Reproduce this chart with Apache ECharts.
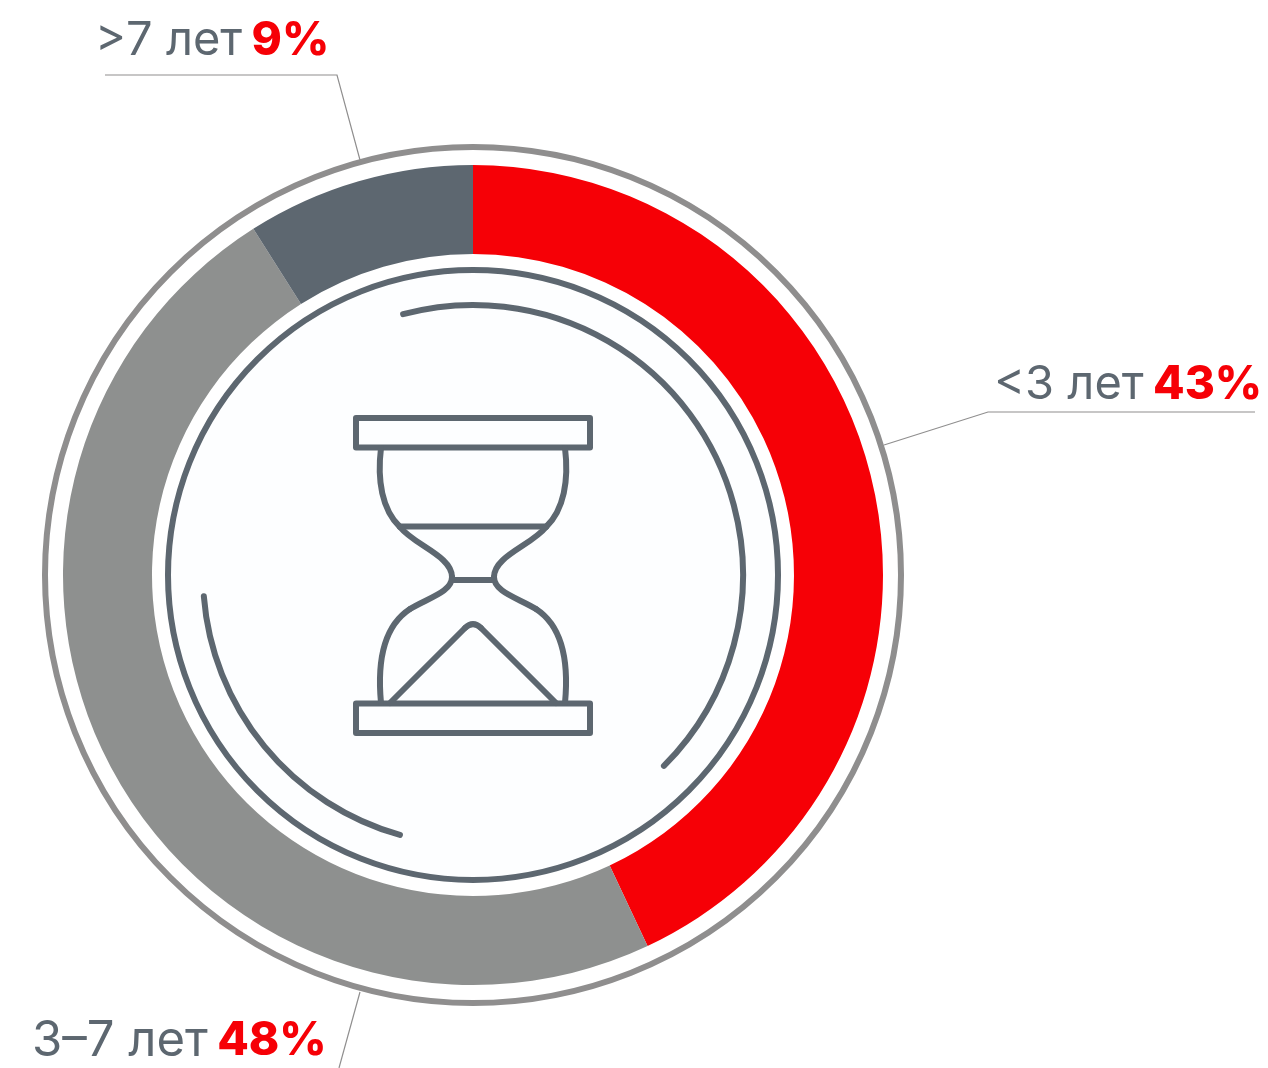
<!DOCTYPE html>
<html><head><meta charset="utf-8">
<style>html,body{margin:0;padding:0;background:#fff}#c{width:1268px;height:1068px}</style>
<script src="https://cdn.jsdelivr.net/npm/echarts@6/dist/echarts.min.js"></script>
</head><body><div id="c"></div>
<script>
const categories = ['<3 лет', '3–7 лет', '>7 лет'];
const values = [43, 48, 9];
const colors = ['#f60006', '#8e908f', '#5d6770'];
const nameStyles = ['a', 'w', 'a'];
const labelAnchors = [
  {x: 994, y: 385, line: [[884, 445], [988, 412], [1255, 412]]},
  {x: 32, y: 1041, line: [[360, 992], [339, 1068]]},
  {x: 95, y: 41, line: [[360, 160], [337, 75], [105, 75]]}
];
const GREY = '#5d6770', RING = '#8f8e8e', cx = 473, cy = 575;
const deg = d => d * Math.PI / 180;
const iconStyle = {fill: 'none', stroke: GREY, lineWidth: 6, lineCap: 'round', lineJoin: 'round'};
const iconRects = [[356, 418, 234, 29.5], [356, 703.5, 234, 29.5]];
const iconLines = [
  [[400, 526.5], [546, 526.5]],
  [[452, 580], [494, 580]],
  [[390, 703], [465, 628]],
  [[481, 628], [556, 703]]
];
// x1,y1, cx1,cy1, cx2,cy2, x2,y2 for the left half of the glass; the right half mirrors it
const glassCurves = [
  [381, 448, 377, 480, 382, 510, 400, 527],
  [400, 527, 414, 545, 452, 556, 452, 577],
  [452, 577, 452, 592, 428, 598, 410, 609],
  [410, 609, 390, 622, 376, 650, 381, 703]
];
const mirror = c => c.map((v, i) => i % 2 ? v : 2 * cx - v);
const bez = c => ({type: 'bezierCurve', z: 3, shape: {x1: c[0], y1: c[1], cpx1: c[2], cpy1: c[3], cpx2: c[4], cpy2: c[5], x2: c[6], y2: c[7]}, style: iconStyle});
const iconShapes = [
  ...iconRects.map(r => ({type: 'rect', z: 3, shape: {x: r[0], y: r[1], width: r[2], height: r[3]}, style: iconStyle})),
  ...iconLines.map(l => ({type: 'polyline', z: 3, shape: {points: l}, style: iconStyle})),
  ...glassCurves.map(bez),
  ...glassCurves.map(mirror).map(bez),
  {type: 'bezierCurve', z: 3, shape: {x1: 465, y1: 628, cpx1: 473, cpy1: 620, x2: 481, y2: 628}, style: iconStyle}
];
const chart = echarts.init(document.getElementById('c'), null, {renderer: 'canvas'});
chart.setOption({
  animation: false,
  graphic: [
    {type: 'circle', z: 1, shape: {cx, cy, r: 428}, style: {fill: 'none', stroke: RING, lineWidth: 6}},
    {type: 'circle', z: 1, shape: {cx, cy, r: 305}, style: {fill: '#fdfeff', stroke: GREY, lineWidth: 6}},
    {type: 'arc', z: 2, shape: {cx, cy, r: 270, startAngle: deg(-105), endAngle: deg(45), clockwise: true}, style: iconStyle},
    {type: 'arc', z: 2, shape: {cx, cy, r: 270, startAngle: deg(105.7), endAngle: deg(175.5), clockwise: true}, style: iconStyle},
    ...iconShapes
  ],
  series: [{
    type: 'pie', silent: true, center: [cx, cy], radius: [321, 410], startAngle: 90, clockwise: true,
    data: categories.map((n, i) => ({name: n, value: values[i], itemStyle: {color: colors[i]}})),
    label: {
      show: true, position: 'outside', overflow: 'none', width: 400,
      formatter: p => `{${nameStyles[p.dataIndex]}|${p.name}}{s| }{b|${p.value}%}`,
      rich: {
        a: {fontFamily: 'Inter', fontSize: 47, color: GREY, fontWeight: 400},
        w: {fontFamily: 'Inter', fontSize: 49, color: GREY, fontWeight: 400},
        s: {fontFamily: 'Inter', fontSize: 33, color: GREY},
        b: {fontFamily: 'Inter', fontSize: 46, color: '#f60006', fontWeight: 800}
      }
    },
    labelLine: {show: true, lineStyle: {color: RING, width: 1.2}},
    labelLayout: p => {
      const a = labelAnchors[p.dataIndex];
      return {x: a.x, y: a.y, align: 'left', verticalAlign: 'middle', labelLinePoints: a.line};
    },
    emphasis: {disabled: true}
  }]
});
</script></body></html>
